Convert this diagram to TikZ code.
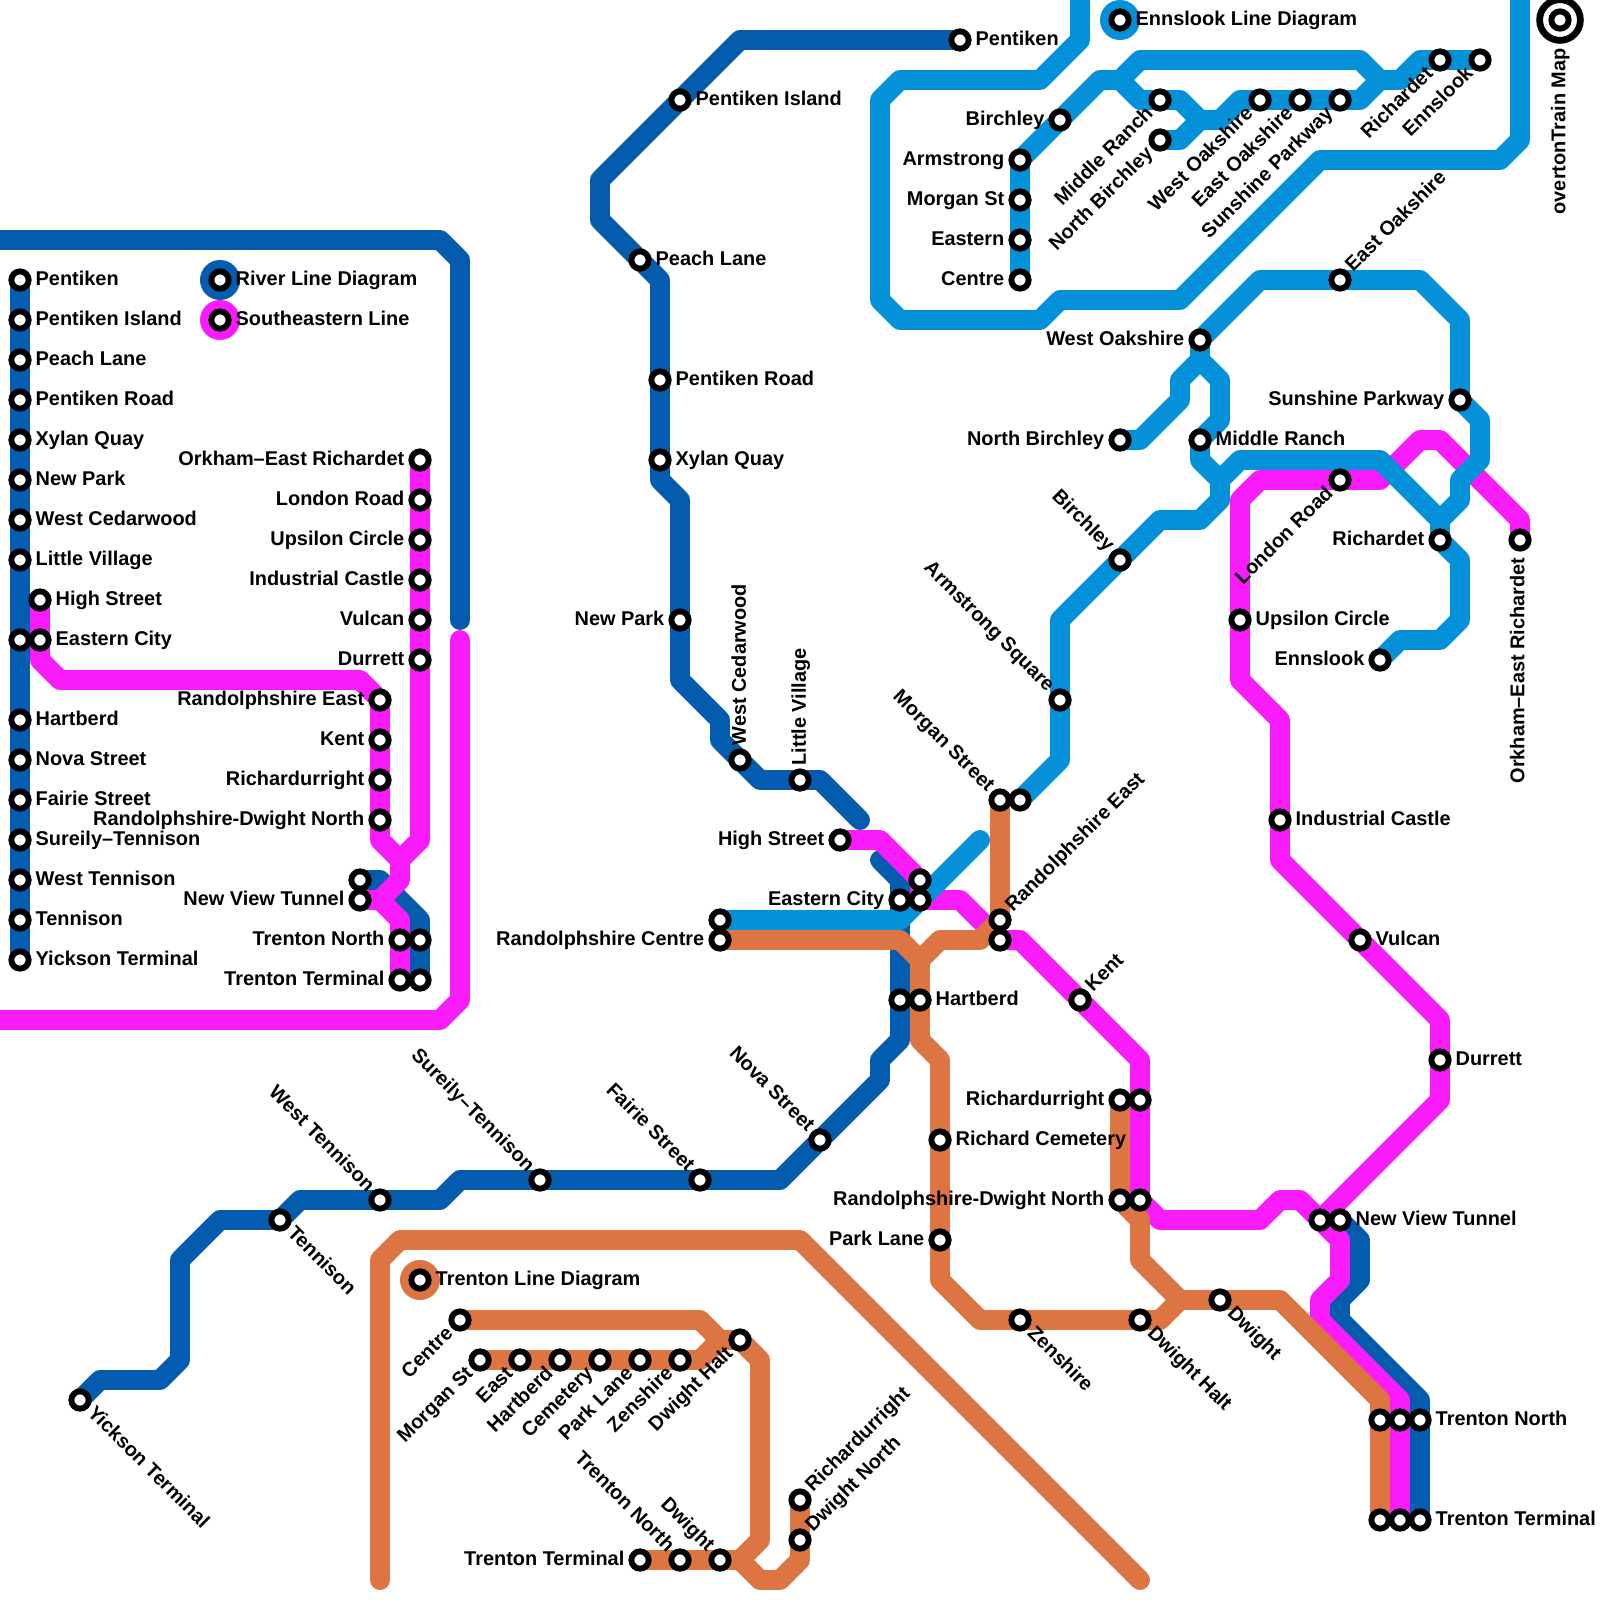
\documentclass[tikz,border=0pt]{standalone}
\usepackage{fontspec}
\setmainfont{Liberation Sans}
\usepackage{xcolor}
\usetikzlibrary{backgrounds}
\definecolor{rivercol}{RGB}{4,92,175}
\definecolor{southcol}{RGB}{249,27,249}
\definecolor{ennscol}{RGB}{5,144,218}
\definecolor{trentcol}{RGB}{220,117,66}
\tikzset{
  line/.style={line width=14.17pt,line cap=round,line join=round},
  riverline/.style={line,draw=rivercol},
  southline/.style={line,draw=southcol},
  ennsline/.style={line,draw=ennscol},
  trentline/.style={line,draw=trentcol},
  stn/.style={circle,draw=black,fill=white,line width=4.2pt,minimum size=12.3pt,inner sep=0pt},
  disc/.style={circle,fill=#1,minimum size=1cm,inner sep=0pt},
  lbl/.style={font=\fontsize{14.17}{17}\selectfont\bfseries,inner sep=0pt,text height=10.5pt,text depth=2.8pt},
  lr/.style={label={[lbl,anchor=west]0:#1}},
  ll/.style={label={[lbl,anchor=east]180:#1}},
  lur/.style={label={[lbl,rotate=45,anchor=west,yshift=-1pt]45:#1}},
  ldl/.style={label={[lbl,rotate=45,anchor=east,yshift=1.5pt]225:#1}},
  ldr/.style={label={[lbl,rotate=-45,anchor=west,yshift=2pt]-45:#1}},
  lul/.style={label={[lbl,rotate=-45,anchor=east,yshift=-1pt]135:#1}},
  lup/.style={label={[lbl,rotate=90,anchor=west,xshift=2pt,yshift=-3pt]90:#1}},
  ldn/.style={label={[lbl,rotate=90,anchor=east,xshift=-4pt,yshift=3.5pt]-90:#1}}
}
\begin{document}
\begin{tikzpicture}[x=0.5cm,y=-0.5cm,label distance=2.7pt]
  \useasboundingbox (0,0) rectangle (80,80);
  % River diagram
  \foreach \n/\y/\t in {Pentiken/14/Pentiken,Island/16/Pentiken Island,Peach/18/Peach Lane,Road/20/Pentiken Road,
      Xylan/22/Xylan Quay,Park/24/New Park,Cedarwood/26/West Cedarwood,Village/28/Little Village,
      Hartberd/36/Hartberd,Nova/38/Nova Street,Fairie/40/Fairie Street,Sureily/42/Sureily--Tennison,
      WestTen/44/West Tennison,Tennison/46/Tennison,Yickson/48/Yickson Terminal} {
    \node[stn,lr=\t] (ri\n) at (1,\y) {};
  }
  \node[stn] (riCity) at (1,32) {};
  \node[stn] (riTunnel) at (18,44) {};
  \node[stn] (riNorth) at (21,47) {};
  \node[stn] (riTerminal) at (21,49) {};
  \node[stn,lr=River Line Diagram] (riLegend) at (11,14) {};
  % Southeastern diagram
  \node[stn,lr=Southeastern Line] (siLegend) at (11,16) {};
  \node[stn,lr=High Street] (siHigh) at (2,30) {};
  \node[stn,lr=Eastern City] (siCity) at (2,32) {};
  \foreach \n/\y/\t in {Orkham/23/Orkham--East Richardet,London/25/London Road,Upsilon/27/Upsilon Circle,
      Castle/29/Industrial Castle,Vulcan/31/Vulcan,Durrett/33/Durrett} {
    \node[stn,ll=\t] (si\n) at (21,\y) {};
  }
  \foreach \n/\y/\t in {RandEast/35/Randolphshire East,Kent/37/Kent,Rich/39/Richardurright,RandNorth/41/Randolphshire-Dwight North} {
    \node[stn,ll=\t] (si\n) at (19,\y) {};
  }
  \node[stn,ll=New View Tunnel] (siTunnel) at (18,45) {};
  \node[stn,ll=Trenton North] (siNorth) at (20,47) {};
  \node[stn,ll=Trenton Terminal] (siTerminal) at (20,49) {};
  % River line
  \node[stn,lr=Pentiken] (rvPentiken) at (48,2) {};
  \node[stn,lr=Pentiken Island] (rvIsland) at (34,5) {};
  \node[stn,lr=Peach Lane] (rvPeach) at (32,13) {};
  \node[stn,lr=Pentiken Road] (rvRoad) at (33,19) {};
  \node[stn,lr=Xylan Quay] (rvXylan) at (33,23) {};
  \node[stn,ll=New Park] (rvPark) at (34,31) {};
  \node[stn,lup=West Cedarwood] (rvCedarwood) at (37,38) {};
  \node[stn,lup=Little Village] (rvVillage) at (40,39) {};
  \node[stn,ll=Eastern City] (rvCity) at (45,45) {};
  \node[stn] (rvHartberd) at (45,50) {};
  \node[stn,lul=Nova Street] (rvNova) at (41,57) {};
  \node[stn,lul=Fairie Street] (rvFairie) at (35,59) {};
  \node[stn,lul=Sureily--Tennison] (rvSureily) at (27,59) {};
  \node[stn,lul=West Tennison] (rvWestTen) at (19,60) {};
  \node[stn,ldr=Tennison] (rvTennison) at (14,61) {};
  \node[stn,ldr=Yickson Terminal] (rvYickson) at (4,70) {};
  \node[stn,lr=New View Tunnel] (rvTunnel) at (67,61) {};
  \node[stn,lr=Trenton North] (rvNorth) at (71,71) {};
  \node[stn,lr=Trenton Terminal] (rvTerminal) at (71,76) {};
  % Southeastern line
  \node[stn,ll=High Street] (soHigh) at (42,42) {};
  \node[stn] (soCity) at (46,44) {};
  \node[stn] (soRandEast) at (50,47) {};
  \node[stn,lur=Kent] (soKent) at (54,50) {};
  \node[stn] (soRich) at (57,55) {};
  \node[stn] (soRandNorth) at (57,60) {};
  \node[stn] (soTunnel) at (66,61) {};
  \node[stn] (soNorth) at (70,71) {};
  \node[stn] (soTerminal) at (70,76) {};
  \node[stn,lr=Durrett] (soDurrett) at (72,53) {};
  \node[stn,lr=Vulcan] (soVulcan) at (68,47) {};
  \node[stn,lr=Industrial Castle] (soCastle) at (64,41) {};
  \node[stn,lr=Upsilon Circle] (soUpsilon) at (62,31) {};
  \node[stn,ldl=London Road] (soLondon) at (67,24) {};
  \node[stn,ldn=Orkham--East Richardet] (soOrkham) at (76,27) {};
  % Ennslook line
  \node[stn,lr=Ennslook Line Diagram] (eiLegend) at (56,1) {};
  \foreach \n/\y/\t in {Armstrong/8/Armstrong,Morgan/10/Morgan St,Eastern/12/Eastern,Centre/14/Centre} {
    \node[stn,ll=\t] (ei\n) at (51,\y) {};
  }
  \node[stn,ll=Birchley] (eiBirchley) at (53,6) {};
  \node[stn,ldl=Middle Ranch] (eiRanch) at (58,5) {};
  \node[stn,ldl=North Birchley] (eiNorthB) at (58,7) {};
  \node[stn,ldl=West Oakshire] (eiWestO) at (63,5) {};
  \node[stn,ldl=East Oakshire] (eiEastO) at (65,5) {};
  \node[stn,ldl=Sunshine Parkway] (eiSunshine) at (67,5) {};
  \node[stn,ldl=Richardet] (eiRichardet) at (72,3) {};
  \node[stn,ldl=Ennslook] (eiEnnslook) at (74,3) {};
  \node[stn,lur=East Oakshire] (enEastO) at (67,14) {};
  \node[stn,ll=West Oakshire] (enWestO) at (60,17) {};
  \node[stn,ll=Sunshine Parkway] (enSunshine) at (73,20) {};
  \node[stn,ll=North Birchley] (enNorthB) at (56,22) {};
  \node[stn,lr=Middle Ranch] (enRanch) at (60,22) {};
  \node[stn,ll=Richardet] (enRichardet) at (72,27) {};
  \node[stn,ll=Ennslook] (enEnnslook) at (69,33) {};
  \node[stn,lul=Birchley] (enBirchley) at (56,28) {};
  \node[stn,lul=Armstrong Square] (enArmstrong) at (53,35) {};
  \node[stn] (enMorgan) at (51,40) {};
  \node[stn] (enCity) at (46,45) {};
  \node[stn] (enCentre) at (36,46) {};
  % Trenton line
  \node[stn,lul=Morgan Street] (trMorgan) at (50,40) {};
  \node[stn,lur=Randolphshire East] (trRandEast) at (50,46) {};
  \node[stn,ll=Randolphshire Centre] (trCentre) at (36,47) {};
  \node[stn,lr=Hartberd] (trHartberd) at (46,50) {};
  \node[stn,lr=Richard Cemetery] (trCemetery) at (47,57) {};
  \node[stn,ll=Park Lane] (trPark) at (47,62) {};
  \node[stn,ldr=Zenshire] (trZenshire) at (51,66) {};
  \node[stn,ldr=Dwight Halt] (trHalt) at (57,66) {};
  \node[stn,ldr=Dwight] (trDwight) at (61,65) {};
  \node[stn,ll=Richardurright] (trRich) at (56,55) {};
  \node[stn,ll=Randolphshire-Dwight North] (trRandNorth) at (56,60) {};
  \node[stn] (trNorth) at (69,71) {};
  \node[stn] (trTerminal) at (69,76) {};
  % Trenton diagram
  \node[stn,lr=Trenton Line Diagram] (tiLegend) at (21,64) {};
  \node[stn,ldl=Centre] (tiCentre) at (23,66) {};
  \foreach \n/\x/\t in {Morgan/24/Morgan St,East/26/East,Hartberd/28/Hartberd,Cemetery/30/Cemetery,Park/32/Park Lane,Zenshire/34/Zenshire} {
    \node[stn,ldl=\t] (ti\n) at (\x,68) {};
  }
  \node[stn,ldl=Dwight Halt] (tiHalt) at (37,67) {};
  \node[stn,ll=Trenton Terminal] (tiTerminal) at (32,78) {};
  \node[stn,lul=Trenton North] (tiNorth) at (34,78) {};
  \node[stn,lul=Dwight] (tiDwight) at (36,78) {};
  \node[stn,lur=Richardurright] (tiRich) at (40,75) {};
  \node[stn,lur=Dwight North] (tiNorthD) at (40,77) {};
  % Map title
  \node[circle,draw=black,line width=4.8pt,minimum size=29pt,inner sep=0pt] (mapRing) at (78,1) {};
  \node[stn] (mapDot) at (mapRing.center) {};
  \node[lbl,rotate=90,anchor=east] (mapTitle) at (78,2.4) {overtonTrain Map};
  \begin{scope}[on background layer]
    % River
    \node[disc=rivercol] (riDisc) at (riLegend.center) {};
    \draw[riverline] (riPentiken.center) -- (riYickson.center);
    \draw[riverline] (-1,12) -- (22,12) -- (23,13) -- (23,31);
    \draw[riverline] (riTunnel.center) -- (19,44) -- (21,46) -- (riTerminal.center);
    \draw[riverline] (rvPentiken.center) -- (37,2) -- (30,9) -- (30,11) -- (rvPeach.center) -- (33,14) -- (33,24) -- (34,25)
      -- (34,34) -- (36,36) -- (36,37) -- (rvCedarwood.center) -- (38,39) -- (41,39) -- (43,41);
    \draw[riverline] (44,43) -- (45,44) -- (rvCity.center) -- (45,52) -- (44,53) -- (44,54) -- (39,59) -- (23,59) -- (22,60)
      -- (15,60) -- (14,61) -- (11,61) -- (9,63) -- (9,68) -- (8,69) -- (5,69) -- (rvYickson.center);
    \draw[riverline] (rvTunnel.center) -- (68,62) -- (68,64) -- (67,65) -- (67,66) -- (71,70) -- (rvTerminal.center);
    % Southeastern
    \node[disc=southcol] (siDisc) at (siLegend.center) {};
    \draw[southline] (siHigh.center) -- (2,33) -- (3,34) -- (18,34) -- (siRandEast.center) -- (19,42) -- (20,43) -- (20,44)
      -- (19,45) -- (siTunnel.center);
    \draw[southline] (siTunnel.center) -- (19,45) -- (20,46) -- (siTerminal.center);
    \draw[southline] (siOrkham.center) -- (21,42) -- (20,43);
    \draw[southline] (23,32) -- (23,50) -- (22,51) -- (-1,51);
    \draw[southline] (soHigh.center) -- (44,42) -- (soCity.center) -- (46,45) -- (48,45) -- (soRandEast.center) -- (51,47)
      -- (57,53) -- (soRandNorth.center) -- (58,61) -- (63,61) -- (64,60) -- (65,60) -- (soTunnel.center) -- (72,55) -- (72,51)
      -- (64,43) -- (64,36) -- (62,34) -- (62,25) -- (63,24) -- (69,24) -- (71,22) -- (72,22) -- (76,26) -- (soOrkham.center);
    \draw[southline] (soTunnel.center) -- (67,62) -- (67,64) -- (66,65) -- (66,66) -- (70,70) -- (soTerminal.center);
    % Ennslook
    \node[disc=ennscol] (eiDisc) at (eiLegend.center) {};
    \draw[ennsline] (54,-1) -- (54,2) -- (52,4) -- (45,4) -- (44,5) -- (44,15) -- (45,16) -- (52,16) -- (53,15) -- (59,15)
      -- (66,8) -- (75,8) -- (76,7) -- (76,-1);
    \draw[ennsline] (eiCentre.center) -- (eiArmstrong.center) -- (55,4) -- (56,4) -- (57,3) -- (68,3) -- (69,4) -- (70,4)
      -- (71,3) -- (eiEnnslook.center);
    \draw[ennsline] (56,4) -- (57,5) -- (59,5) -- (60,6) -- (61,6) -- (62,5) -- (68,5) -- (69,4);
    \draw[ennsline] (eiNorthB.center) -- (59,7) -- (60,6);
    \draw[ennsline] (enWestO.center) -- (63,14) -- (71,14) -- (73,16) -- (enSunshine.center) -- (74,21) -- (74,23) -- (73,24)
      -- (73,25) -- (72,26) -- (enRichardet.center) -- (73,28) -- (73,31) -- (72,32) -- (70,32) -- (enEnnslook.center);
    \draw[ennsline] (enWestO.center) -- (60,18) -- (59,19) -- (59,20) -- (57,22) -- (enNorthB.center);
    \draw[ennsline] (60,18) -- (61,19) -- (61,21) -- (enRanch.center) -- (60,23) -- (61,24) -- (61,25) -- (60,26) -- (58,26)
      -- (enBirchley.center) -- (53,31) -- (53,38) -- (enMorgan.center);
    \draw[ennsline] (61,24) -- (62,23) -- (69,23) -- (72,26);
    \draw[ennsline] (enCentre.center) -- (45,46) -- (49,42);
    % Trenton
    \node[disc=trentcol] (tiDisc) at (tiLegend.center) {};
    \draw[trentline] (19,79) -- (19,63) -- (20,62) -- (40,62) -- (57,79);
    \draw[trentline] (tiCentre.center) -- (35,66) -- (36,67) -- (tiHalt.center) -- (38,68) -- (38,77) -- (37,78);
    \draw[trentline] (tiMorgan.center) -- (35,68) -- (36,67);
    \draw[trentline] (tiTerminal.center) -- (37,78) -- (38,79) -- (39,79) -- (40,78) -- (tiRich.center);
    \draw[trentline] (trCentre.center) -- (45,47) -- (46,48) -- (46,52) -- (47,53) -- (47,64) -- (49,66) -- (58,66) -- (59,65)
      -- (64,65) -- (69,70) -- (trTerminal.center);
    \draw[trentline] (trMorgan.center) -- (trRandEast.center) -- (49,47) -- (47,47) -- (46,48);
    \draw[trentline] (trRich.center) -- (trRandNorth.center) -- (57,61) -- (57,63) -- (59,65);
  \end{scope}
\end{tikzpicture}
\end{document}
